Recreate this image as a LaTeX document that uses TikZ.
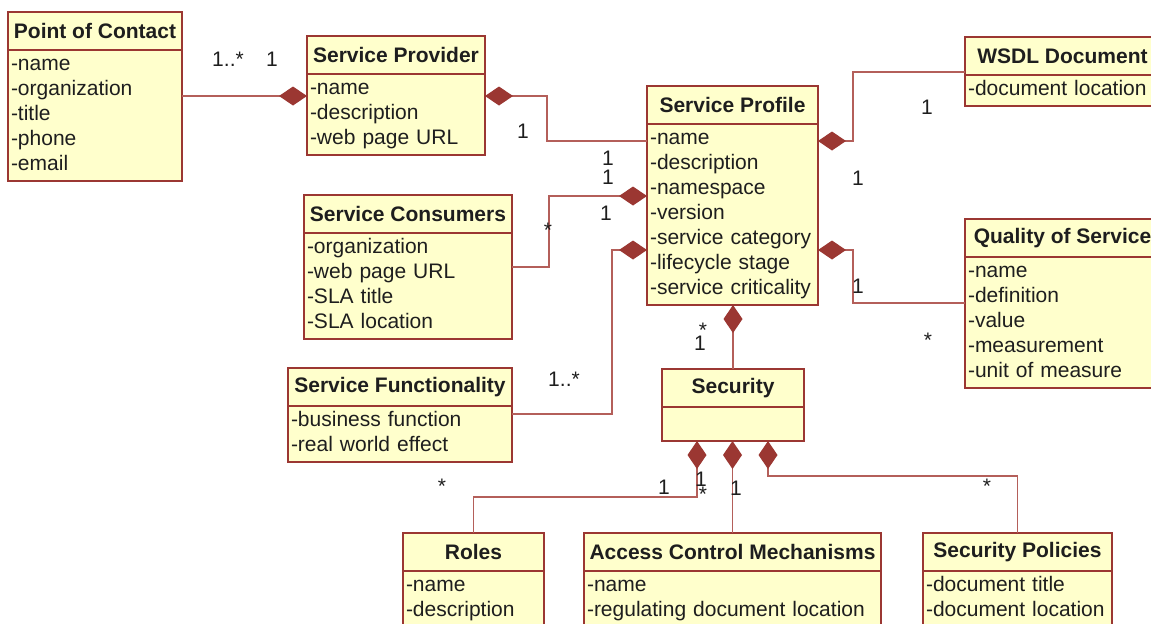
\documentclass[tikz,border=0pt]{standalone}
\usepackage{fontspec}
\setmainfont{Liberation Sans}
\usepackage{tikz}
\usetikzlibrary{arrows.meta}
\definecolor{umlred}{RGB}{155,55,50}
\definecolor{umlline}{RGB}{180,95,90}
\definecolor{umlfill}{RGB}{255,255,204}
\definecolor{umltext}{RGB}{30,30,30}

\begin{document}
\begin{tikzpicture}[x=0.5pt, y=-0.5pt,
    classhead/.style={draw=umlred, line width=1pt, fill=umlfill, anchor=north west,
        outer sep=0pt, inner sep=0pt, minimum height=19pt, text=umltext,
        font=\fontsize{10.5}{12.5}\selectfont\bfseries},
    classattr/.style={draw=umlred, line width=1pt, fill=umlfill, anchor=north west,
        outer sep=0pt, inner xsep=1.5pt, inner ysep=1.5pt, align=left, text=umltext,
        font=\fontsize{10.5}{12.5}\selectfont,
        execute at begin node=\strut, execute at end node=\strut},
    comp/.style={draw=umlline, line width=0.7pt,
        -{Diamond[length=14pt, width=9.5pt, color=umlred, fill=umlred]}},
    mult/.style={anchor=base, inner sep=0pt, text=umltext,
        font=\fontsize{10.5}{12.5}\selectfont}]

    \useasboundingbox (0,0) rectangle (1151,623);
    \clip (0,0) rectangle (1151,623);

    % classes
    \node[classhead, minimum width=87pt] (poc) at (8,12) {Point of Contact};
    \node[classattr, text width=84pt] (poc-attr) at (poc.south west)
        {-name\\-organization\\-title\\-phone\\-email};

    \node[classhead, minimum width=89pt] (sp) at (307,36) {Service Provider};
    \node[classattr, text width=86pt] (sp-attr) at (sp.south west)
        {-name\\-description\\-web page URL};

    \node[classhead, minimum width=85.5pt] (profile) at (647,86) {Service Profile};
    \node[classattr, text width=82.5pt] (profile-attr) at (profile.south west)
        {-name\\-description\\-namespace\\-version\\-service category\\-lifecycle stage\\-service criticality};

    \node[classhead, minimum width=97.5pt] (wsdl) at (965,37) {WSDL Document};
    \node[classattr, text width=94.5pt] (wsdl-attr) at (wsdl.south west)
        {-document location};

    \node[classhead, minimum width=97.5pt] (qos) at (965,219) {Quality of Service};
    \node[classattr, text width=94.5pt] (qos-attr) at (qos.south west)
        {-name\\-definition\\-value\\-measurement\\-unit of measure};

    \node[classhead, minimum width=104pt] (consumers) at (304,195) {Service Consumers};
    \node[classattr, text width=101pt] (consumers-attr) at (consumers.south west)
        {-organization\\-web page URL\\-SLA title\\-SLA location};

    \node[classhead, minimum width=112pt] (func) at (288,368) {Service Functionality};
    \node[classattr, text width=109pt] (func-attr) at (func.south west)
        {-business function\\-real world effect};

    \node[classhead, minimum width=71pt] (sec) at (662,369) {Security};
    \node[classattr, text width=68pt, minimum height=17pt] (sec-attr) at (sec.south west) {};

    \node[classhead, minimum width=70.5pt] (roles) at (403,533) {Roles};
    \node[classattr, text width=67.5pt] (roles-attr) at (roles.south west)
        {-name\\-description};

    \node[classhead, minimum width=148.5pt] (acm) at (584,533) {Access Control Mechanisms};
    \node[classattr, text width=145.5pt] (acm-attr) at (acm.south west)
        {-name\\-regulating document location};

    \node[classhead, minimum width=94.5pt] (policies) at (923,533) {Security Policies};
    \node[classattr, text width=91.5pt] (policies-attr) at (policies.south west)
        {-document title\\-document location};

    % compositions
    \draw[comp] (poc-attr.east |- 0,96) -- (sp-attr.west |- 0,96);
    \draw[comp] (profile-attr.west |- 0,141) -| (547,96) -- (sp-attr.east |- 0,96);
    \draw[comp] (consumers-attr.east |- 0,267) -| (549,196) -- (profile-attr.west |- 0,196);
    \draw[comp] (func-attr.east |- 0,414) -| (612,250) -- (profile-attr.west |- 0,250);
    \draw[comp] (wsdl.west |- 0,72) -| (853,141) -- (profile-attr.east |- 0,141);
    \draw[comp] (qos-attr.west |- 0,303) -| (853,250) -- (profile-attr.east |- 0,250);
    \draw[comp] (sec.north) -- (sec.north |- profile-attr.south);
    \draw[comp] (roles.north) |- (697,497) -- (sec-attr.south -| 697,0);
    \draw[comp] (acm.north) -- (acm.north |- sec-attr.south);
    \draw[comp] (policies.north) |- (768,476) -- (sec-attr.south -| 768,0);

    % multiplicities
    \node[mult] (m-poc) at (228,66) {1..*};
    \node[mult] (m-sp1) at (272,66) {1};
    \node[mult] (m-sp2) at (523,138) {1};
    \node[mult] (m-pr1) at (608,165) {1};
    \node[mult] (m-pr2) at (608,184) {1};
    \node[mult] (m-pr3) at (606,220) {1};
    \node[mult] (m-con) at (548,237) {*};
    \node[mult] (m-fun) at (564,386) {1..*};
    \node[mult] (m-wsdl) at (927,114) {1};
    \node[mult] (m-pr4) at (858,185) {1};
    \node[mult] (m-pr5) at (858,293) {1};
    \node[mult] (m-qos) at (928,347) {*};
    \node[mult] (m-sec1) at (703,337) {*};
    \node[mult] (m-sec2) at (700,350) {1};
    \node[mult] (m-rol) at (442,493) {*};
    \node[mult] (m-sec3) at (664,494) {1};
    \node[mult] (m-sec4) at (701,486) {1};
    \node[mult] (m-acm) at (703,501) {*};
    \node[mult] (m-sec5) at (736,495) {1};
    \node[mult] (m-pol) at (987,493) {*};
\end{tikzpicture}
\end{document}
